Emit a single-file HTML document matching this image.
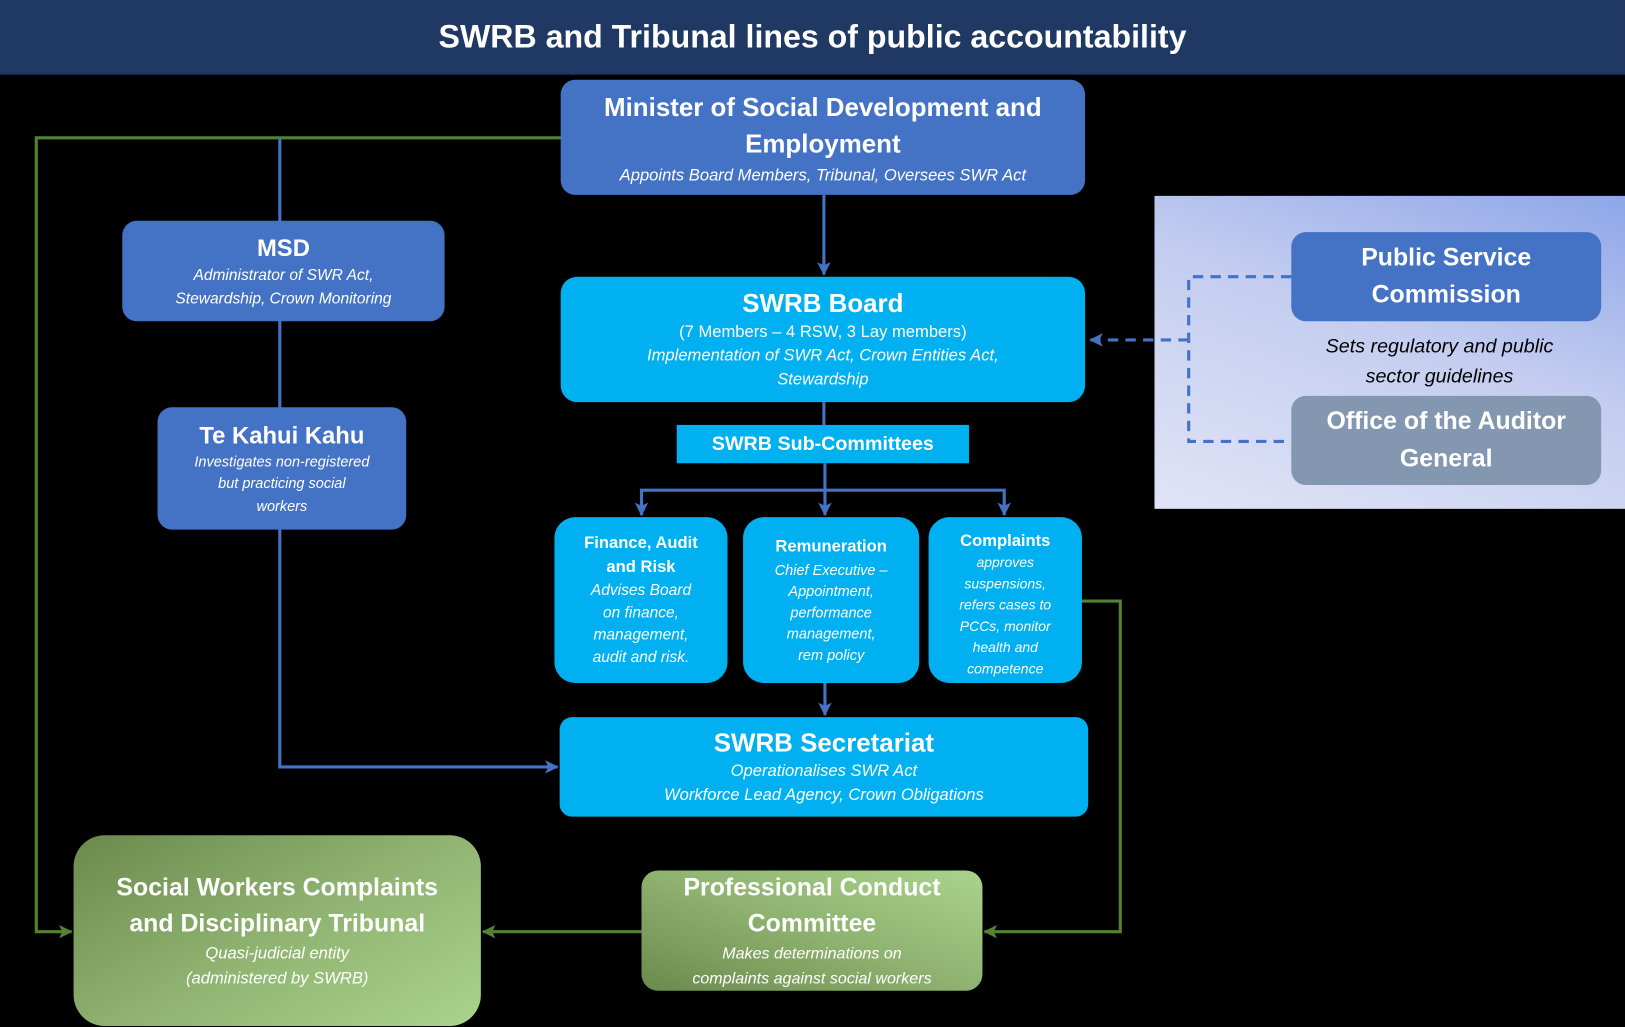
<!DOCTYPE html>
<html><head><meta charset="utf-8"><style>
html,body{margin:0;padding:0;background:#000;width:1625px;height:1027px;overflow:hidden}
#w{position:absolute;left:0;top:0;width:1568px;height:991px;transform:scale(1.03635);transform-origin:0 0;font-family:"Liberation Sans",sans-serif;color:#fff}
.b{position:absolute;box-sizing:border-box;text-align:center;display:flex;flex-direction:column;justify-content:center;align-items:center}
.t{font-weight:bold}
.i{font-style:italic}
</style></head><body><div id="w">
<div class="b t" style="left:0;top:0;width:1568px;height:72px;background:#1f3864;font-size:31px">SWRB and Tribunal lines of public accountability</div>
<div style="position:absolute;left:1114px;top:189px;width:454px;height:302px;background:linear-gradient(200deg,#8ea6e8 0%,#c4cdf0 45%,#e0e4f6 100%)"></div>
<svg style="position:absolute;left:0;top:0" width="1568" height="991">
<defs>
<marker id="ab" markerWidth="13" markerHeight="13" refX="12" refY="6.5" orient="auto" markerUnits="userSpaceOnUse"><path d="M0,0 L13,6.5 L0,13 L3,6.5z" fill="#4472c4"/></marker>
<marker id="ag" markerWidth="13" markerHeight="13" refX="12" refY="6.5" orient="auto" markerUnits="userSpaceOnUse"><path d="M0,0 L13,6.5 L0,13 L3,6.5z" fill="#548235"/></marker>
</defs>
<g fill="none" stroke-width="3">
<path d="M545,133 H35 V899 H69" stroke="#548235" marker-end="url(#ag)"/>
<path d="M1044,580 H1081 V899 H950" stroke="#548235" marker-end="url(#ag)"/>
<path d="M619,899 H466" stroke="#548235" marker-end="url(#ag)"/>
<path d="M270,133 V740 H538" stroke="#4472c4" marker-end="url(#ab)"/>
<path d="M795,188 V265" stroke="#4472c4" marker-end="url(#ab)"/>
<path d="M795,388 V410" stroke="#4472c4"/>
<path d="M796,447 V497" stroke="#4472c4" marker-end="url(#ab)"/>
<path d="M619,497 V473 H969 V497" stroke="#4472c4" marker-end="url(#ab)"/>
<path d="M619,475 V497" stroke="#4472c4" marker-end="url(#ab)"/>
<path d="M796,659 V690" stroke="#4472c4" marker-end="url(#ab)"/>
<path d="M1246,267 H1147 V426 H1246" stroke="#4472c4" stroke-dasharray="10,7"/>
<path d="M1147,328 H1052" stroke="#4472c4" stroke-dasharray="10,7" marker-end="url(#ab)"/>
</g></svg>
<div class="b" style="left:541px;top:77px;width:506px;height:111px;background:#4472c4;border-radius:14px">
<div class="t" style="font-size:25px;line-height:35px">Minister of Social Development and<br>Employment</div>
<div class="i" style="font-size:16px;margin-top:4px">Appoints Board Members, Tribunal, Oversees SWR Act</div></div>
<div class="b" style="left:118px;top:213px;width:311px;height:97px;background:#4472c4;border-radius:14px">
<div class="t" style="font-size:23px;line-height:30px">MSD</div>
<div class="i" style="font-size:15px;line-height:23px">Administrator of SWR Act,<br>Stewardship, Crown Monitoring</div></div>
<div class="b" style="left:152px;top:393px;width:240px;height:118px;background:#4472c4;border-radius:14px">
<div class="t" style="font-size:23px;line-height:30px">Te Kahui Kahu</div>
<div class="i" style="font-size:14px;line-height:21.5px">Investigates non-registered<br>but practicing social<br>workers</div></div>
<div class="b" style="left:541px;top:267px;width:506px;height:121px;background:#00b0f0;border-radius:16px">
<div class="t" style="font-size:25px;line-height:32px">SWRB Board</div>
<div style="font-size:16px;line-height:23px">(7 Members – 4 RSW, 3 Lay members)<br><i>Implementation of SWR Act, Crown Entities Act,<br>Stewardship</i></div></div>
<div class="b t" style="left:653px;top:410px;width:282px;height:37px;background:#00b0f0;font-size:19px">SWRB Sub-Committees</div>
<div class="b" style="left:535px;top:499px;width:167px;height:160px;background:#00b0f0;border-radius:20px">
<div class="t" style="font-size:16px;line-height:23px">Finance, Audit<br>and Risk</div>
<div class="i" style="font-size:15px;line-height:21.5px">Advises Board<br>on finance,<br>management,<br>audit and risk.</div></div>
<div class="b" style="left:717px;top:499px;width:170px;height:160px;background:#00b0f0;border-radius:20px">
<div class="t" style="font-size:16px;line-height:24px">Remuneration</div>
<div class="i" style="font-size:14px;line-height:20.5px">Chief Executive –<br>Appointment,<br>performance<br>management,<br>rem policy</div></div>
<div class="b" style="left:896px;top:499px;width:148px;height:160px;background:#00b0f0;border-radius:20px;padding-top:10px">
<div class="t" style="font-size:16px;line-height:21px">Complaints</div>
<div class="i" style="font-size:13.5px;line-height:20.5px">approves<br>suspensions,<br>refers cases to<br>PCCs, monitor<br>health and<br>competence</div></div>
<div class="b" style="left:540px;top:692px;width:510px;height:96px;background:#00b0f0;border-radius:12px">
<div class="t" style="font-size:25px;line-height:32px">SWRB Secretariat</div>
<div class="i" style="font-size:16px;line-height:23px">Operationalises SWR Act<br>Workforce Lead Agency, Crown Obligations</div></div>
<div class="b" style="left:1246px;top:224px;width:299px;height:86px;background:#4472c4;border-radius:14px">
<div class="t" style="font-size:24px;line-height:36px">Public Service<br>Commission</div></div>
<div class="b i" style="left:1230px;top:318px;width:318px;height:62px;color:#000;font-size:19px;line-height:29px">Sets regulatory and public<br>sector guidelines</div>
<div class="b" style="left:1246px;top:382px;width:299px;height:86px;background:#8497b0;border-radius:14px">
<div class="t" style="font-size:24px;line-height:36px">Office of the Auditor<br>General</div></div>
<div class="b" style="left:71px;top:806px;width:393px;height:184px;background:linear-gradient(150deg,#6a8a4c 0%,#8fb270 50%,#a9d48c 100%);border-radius:30px">
<div class="t" style="font-size:24px;line-height:35px">Social Workers Complaints<br>and Disciplinary Tribunal</div>
<div class="i" style="font-size:16px;line-height:24px">Quasi-judicial entity<br>(administered by SWRB)</div></div>
<div class="b" style="left:619px;top:840px;width:329px;height:116px;background:linear-gradient(20deg,#6a8a4c 0%,#8fb270 50%,#a9d48c 100%);border-radius:16px">
<div class="t" style="font-size:24px;line-height:35px">Professional Conduct<br>Committee</div>
<div class="i" style="font-size:15.5px;line-height:24px">Makes determinations on<br>complaints against social workers</div></div>
</div></body></html>
